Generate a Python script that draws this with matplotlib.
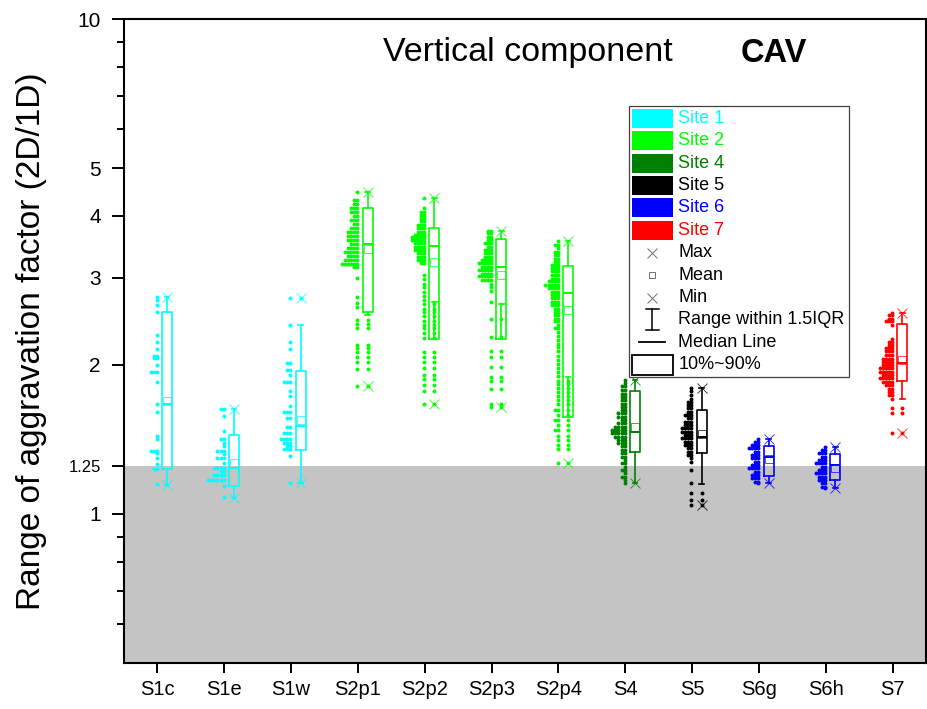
import matplotlib
matplotlib.use('Agg')
import matplotlib.pyplot as plt
from matplotlib.patches import Rectangle
from matplotlib.lines import Line2D
from matplotlib.ticker import FixedLocator, NullFormatter

plt.rcParams['font.family'] = ['Liberation Sans', 'DejaVu Sans']

# ---------------- data ----------------
categories = ['S1c', 'S1e', 'S1w', 'S2p1', 'S2p2', 'S2p3', 'S2p4', 'S4', 'S5', 'S6g', 'S6h', 'S7']
site_colors = ['#00FFFF', '#00FFFF', '#00FFFF', '#00FF00', '#00FF00', '#00FF00', '#00FF00',
               '#008000', '#000000', '#0000FF', '#0000FF', '#FF0000']

p90 = [2.556, 1.446, 1.948, 4.157, 3.79, 3.59, 3.17, 1.776, 1.622, 1.372, 1.322, 2.415]
p10 = [1.233, 1.139, 1.347, 2.556, 2.26, 2.26, 1.567, 1.336, 1.326, 1.193, 1.171, 1.86]
median = [1.667, 1.24, 1.508, 3.512, 3.48, 3.16, 2.79, 1.463, 1.433, 1.305, 1.256, 2.015]
mean = [1.69, 1.265, 1.545, 3.43, 3.23, 3.04, 2.58, 1.498, 1.45, 1.29, 1.24, 2.045]
whislo = [1.144, 1.076, 1.153, 2.524, 2.68, 2.65, 1.894, 1.153, 1.148, 1.153, 1.127, 1.706]
whishi = [2.75, 1.63, 2.41, 4.466, 4.34, 3.73, 3.56, 1.865, 1.794, 1.415, 1.367, 2.544]
vmin = [1.144, 1.076, 1.153, 1.814, 1.67, 1.647, 1.266, 1.153, 1.043, 1.153, 1.127, 1.455]
vmax = [2.75, 1.63, 2.728, 4.466, 4.34, 3.73, 3.56, 1.865, 1.794, 1.415, 1.367, 2.544]

# distribution rows: value levels and number of points at each level
s1c_vals = [2.75, 2.70, 2.64, 2.56, 2.30, 2.23, 2.15, 2.09, 2.07, 2.00, 1.94, 1.85, 1.67, 1.61,
            1.44, 1.42, 1.34, 1.33, 1.30, 1.26, 1.23, 1.15]
s1c_cnts = [1, 1, 1, 1, 1, 1, 1, 2, 2, 1, 3, 1, 1, 1, 1, 1, 3, 1, 1, 1, 2, 1]

s1e_vals = [1.63, 1.58, 1.47, 1.42, 1.39, 1.37, 1.34, 1.32, 1.30, 1.27, 1.24, 1.22, 1.20, 1.17, 1.14, 1.08]
s1e_cnts = [2, 1, 1, 2, 1, 1, 3, 1, 3, 1, 4, 2, 4, 6, 1, 1]

s1w_vals = [2.73, 2.41, 2.23, 2.15, 2.02, 1.95, 1.91, 1.85, 1.77, 1.73, 1.65, 1.61, 1.56, 1.50,
            1.46, 1.42, 1.39, 1.37, 1.35, 1.31, 1.153]
s1w_cnts = [1, 1, 1, 1, 2, 2, 1, 3, 1, 1, 1, 3, 2, 2, 3, 4, 3, 2, 3, 1, 1]

s2p1_vals = [4.466, 4.31, 4.23, 4.15, 4.07, 4.00, 3.93, 3.85, 3.78, 3.71, 3.64, 3.58, 3.51, 3.45,
             3.38, 3.32, 3.26, 3.20, 3.16, 3.00, 2.74, 2.67, 2.62, 2.47, 2.42, 2.37, 2.19, 2.16,
             2.12, 2.08, 2.03, 1.96, 1.814]
s2p1_cnts = [1, 2, 2, 3, 3, 2, 3, 2, 3, 4, 4, 4, 3, 4, 5, 4, 5, 6, 2, 1, 1, 1, 1, 1, 1, 1, 1, 1,
             1, 1, 1, 1, 1]

s2p2_vals = [4.34, 4.15, 4.08, 4.02, 3.96, 3.90, 3.84, 3.78, 3.72, 3.66, 3.62, 3.58, 3.53, 3.47,
             3.41, 3.36, 3.31, 3.26, 3.21, 3.04, 2.98, 2.92, 2.87, 2.81, 2.76, 2.70, 2.65, 2.60,
             2.56, 2.51, 2.45, 2.41, 2.37, 2.32, 2.27, 2.12, 2.08, 2.03, 1.97, 1.91, 1.87, 1.82,
             1.77, 1.67]
s2p2_cnts = [1, 1, 2, 2, 2, 2, 3, 3, 3, 4, 5, 5, 4, 4, 4, 3, 3, 3, 2, 1, 1, 1, 1, 1, 1, 1, 1, 1,
             1, 1, 1, 1, 1, 1, 1, 1, 1, 1, 1, 1, 1, 1, 1, 1]

s2p3_vals = [3.73, 3.69, 3.63, 3.58, 3.53, 3.47, 3.41, 3.36, 3.31, 3.26, 3.21, 3.16, 3.11, 3.06,
             3.02, 2.97, 2.92, 2.88, 2.82, 2.68, 2.48, 2.28, 2.13, 2.08, 1.98, 1.89, 1.86, 1.79,
             1.665, 1.647]
s2p3_cnts = [2, 2, 2, 2, 3, 2, 3, 3, 3, 4, 5, 4, 5, 4, 5, 4, 1, 1, 1, 1, 1, 1, 1, 1, 1, 1, 1, 1, 1, 1]

s2p4_vals = [3.56, 3.49, 3.44, 3.39, 3.34, 3.28, 3.23, 3.18, 3.14, 3.09, 3.04, 2.99, 2.95, 2.90,
             2.86, 2.81, 2.77, 2.73, 2.68, 2.64, 2.60, 2.56, 2.52, 2.48, 2.45, 2.41, 2.37, 2.33,
             2.29, 2.25, 2.21, 2.17, 2.13, 2.09, 2.05, 2.01, 1.97, 1.94, 1.90, 1.86, 1.83, 1.80,
             1.76, 1.73, 1.70, 1.67, 1.62, 1.585, 1.55, 1.51, 1.48, 1.44, 1.41, 1.38, 1.35, 1.266]
s2p4_cnts = [1, 2, 1, 2, 2, 2, 2, 3, 3, 3, 3, 3, 4, 5, 4, 3, 3, 3, 3, 3, 2, 2, 2, 2, 2, 1, 2, 1,
             1, 1, 1, 1, 1, 1, 1, 1, 1, 1, 1, 1, 1, 1, 1, 1, 1, 1, 2, 1, 2, 1, 2, 1, 1, 1, 1, 1]

s4_vals = [1.865, 1.84, 1.81, 1.78, 1.75, 1.725, 1.70, 1.67, 1.647, 1.62, 1.60, 1.57, 1.55, 1.525,
           1.50, 1.48, 1.455, 1.43, 1.41, 1.39, 1.37, 1.347, 1.326, 1.305, 1.286, 1.266, 1.246,
           1.227, 1.208, 1.19, 1.171, 1.153]
s4_cnts = [1, 1, 2, 2, 2, 2, 2, 2, 2, 2, 3, 3, 2, 3, 4, 5, 5, 4, 3, 3, 2, 2, 2, 2, 1, 2, 1, 2, 1,
           2, 1, 1]

s5_vals = [1.794, 1.77, 1.74, 1.71, 1.686, 1.66, 1.635, 1.61, 1.585, 1.56, 1.536, 1.513, 1.49,
           1.466, 1.444, 1.422, 1.40, 1.378, 1.357, 1.336, 1.316, 1.296, 1.276, 1.227, 1.157,
           1.104, 1.067, 1.043]
s5_cnts = [1, 1, 1, 1, 2, 2, 2, 2, 3, 2, 3, 3, 4, 4, 3, 4, 3, 3, 2, 2, 2, 1, 1, 1, 1, 1, 1, 1]

s6g_vals = [1.415, 1.40, 1.378, 1.357, 1.336, 1.316, 1.296, 1.276, 1.256, 1.237, 1.218, 1.199,
            1.18, 1.162, 1.153]
s6g_cnts = [1, 2, 3, 4, 2, 3, 3, 2, 3, 4, 2, 3, 3, 2, 1]

s6h_vals = [1.367, 1.347, 1.326, 1.305, 1.286, 1.266, 1.246, 1.227, 1.208, 1.19, 1.171, 1.153,
            1.136, 1.127]
s6h_cnts = [1, 2, 3, 2, 3, 4, 2, 3, 4, 3, 3, 2, 2, 1]

s7_vals = [2.544, 2.52, 2.48, 2.45, 2.41, 2.26, 2.23, 2.19, 2.16, 2.13, 2.095, 2.06, 2.03, 2.0,
           1.97, 1.94, 1.91, 1.88, 1.85, 1.82, 1.79, 1.766, 1.74, 1.706, 1.635, 1.60, 1.455]
s7_cnts = [1, 2, 2, 3, 1, 1, 2, 2, 3, 3, 3, 4, 4, 4, 5, 5, 4, 5, 4, 3, 2, 2, 2, 1, 1, 1, 1]

dist_vals = [s1c_vals, s1e_vals, s1w_vals, s2p1_vals, s2p2_vals, s2p3_vals, s2p4_vals,
             s4_vals, s5_vals, s6g_vals, s6h_vals, s7_vals]
dist_cnts = [s1c_cnts, s1e_cnts, s1w_cnts, s2p1_cnts, s2p2_cnts, s2p3_cnts, s2p4_cnts,
             s4_cnts, s5_cnts, s6g_cnts, s6h_cnts, s7_cnts]

legend_sites = ['Site 1', 'Site 2', 'Site 4', 'Site 5', 'Site 6', 'Site 7']
legend_site_colors = ['#00FFFF', '#00FF00', '#008000', '#000000', '#0000FF', '#FF0000']
legend_marks = ['Max', 'Mean', 'Min', 'Range within 1.5IQR', 'Median Line', '10%~90%']

y_major = [1, 1.25, 2, 3, 4, 5, 10]
y_major_labels = ['1', '1.25', '2', '3', '4', '5', '10']
y_minor = [0.6, 0.7, 0.8, 0.9, 6, 7, 8, 9]

# ---------------- figure ----------------
W, H = 927, 709
fig = plt.figure(figsize=(W / 100, H / 100), dpi=100)
AX_L, AX_R, AX_T, AX_B = 124, 926, 19, 663
ax = fig.add_axes([AX_L / W, (H - AX_B) / H, (AX_R - AX_L) / W, (AX_B - AX_T) / H])

ax.set_yscale('log')
ax.set_ylim(0.5, 10)
ax.set_xlim(0.5, len(categories) + 0.5)

ax.axhspan(0.5, 1.25, facecolor='#c4c4c4', edgecolor='none', zorder=0)

DX = 0.046
BOX_OFF = 0.145
BOX_W = 0.15
DOT_S = 8

for i, cat in enumerate(categories):
    pos = i + 1
    c = site_colors[i]
    xs, ys = [], []
    for v, n in zip(dist_vals[i], dist_cnts[i]):
        for j in range(n):
            xs.append(pos - 0.01 - j * DX)
            ys.append(v)
    ax.scatter(xs, ys, s=DOT_S, color=c, linewidths=0, zorder=3)

    bx = pos + BOX_OFF
    stats = dict(med=median[i], q1=p10[i], q3=p90[i], whislo=whislo[i], whishi=whishi[i],
                 mean=mean[i], fliers=[])
    ax.bxp([stats], positions=[bx], widths=[BOX_W], showmeans=True, showfliers=False,
           manage_ticks=False, capwidths=[0.07],
           boxprops=dict(color=c, linewidth=1.2),
           whiskerprops=dict(color=c, linewidth=1.2),
           capprops=dict(color=c, linewidth=1.2),
           medianprops=dict(color=c, linewidth=1.4),
           meanprops=dict(marker='s', markersize=5.5, markerfacecolor='none',
                          markeredgecolor=c, markeredgewidth=0.7, alpha=0.7),
           zorder=4)

    out = []
    for v in dist_vals[i]:
        if v < whislo[i] - 1e-9 or v > whishi[i] + 1e-9:
            out.append(v)
    if out:
        ax.scatter([bx] * len(out), out, s=DOT_S, color=c, linewidths=0, zorder=5)
    ax.plot([bx, bx], [vmax[i], vmin[i]], ls='none', marker='x', ms=6.5, mew=0.7,
            color=c, alpha=0.75, zorder=6)

# axes styling
ax.set_xticks(range(1, len(categories) + 1))
ax.set_xticklabels(categories, fontsize=14.5)
ax.yaxis.set_major_locator(FixedLocator(y_major))
ax.yaxis.set_minor_locator(FixedLocator(y_minor))
ax.set_yticklabels(y_major_labels)
ax.yaxis.set_minor_formatter(NullFormatter())
for t, lab in zip(ax.get_yticklabels(), y_major_labels):
    t.set_fontsize(12 if lab == '1.25' else 15)

ax.tick_params(axis='y', which='major', direction='out', length=8.6, width=1.4, pad=8)
ax.tick_params(axis='y', which='minor', direction='out', length=5, width=1.4)
ax.tick_params(axis='x', which='major', direction='out', length=7, width=1.4, pad=5)
ax.tick_params(axis='x', which='minor', bottom=False)
for sp in ax.spines.values():
    sp.set_linewidth(1.5)
    sp.set_color('black')

ax.set_ylabel('Range of aggravation factor (2D/1D)', fontsize=24)
ax.yaxis.set_label_coords((47 - AX_L) / (AX_R - AX_L), 0.5)

def fx(px):
    return (px - AX_L) / (AX_R - AX_L)

def fy(py):
    return (AX_B - py) / (AX_B - AX_T)

ax.text(fx(383), fy(53), 'Vertical component', transform=ax.transAxes, fontsize=24.5,
        ha='left', va='center')
ax.text(fx(741), fy(53), 'CAV', transform=ax.transAxes, fontsize=23.5, fontweight='bold',
        ha='left', va='center')

# ---------------- legend (drawn in axes coordinates) ----------------
T = ax.transAxes
ax.add_patch(Rectangle((fx(629.3), fy(376.7)), fx(848.7) - fx(629.3), fy(105.7) - fy(376.7),
                       transform=T, facecolor='white', edgecolor='#404040', linewidth=0.9,
                       zorder=10))
row0, drow = 118.3, 22.4
for k, (lab, col) in enumerate(zip(legend_sites, legend_site_colors)):
    yc = row0 + drow * k
    ax.add_patch(Rectangle((fx(631.7), fy(yc + 9.5)), fx(672.7) - fx(631.7), fy(yc - 9.5) - fy(yc + 9.5),
                           transform=T, facecolor=col, edgecolor='none', zorder=11))
    ax.text(fx(678.3), fy(yc), lab, color=col, transform=T, fontsize=13, ha='left',
            va='center', zorder=12)
for m, lab in enumerate(legend_marks):
    k = m + len(legend_sites)
    yc = row0 + drow * k
    ax.text(fx(678.3), fy(yc), lab, color='black', transform=T, fontsize=13, ha='left',
            va='center', zorder=12)
    xm = fx(652.3)
    if lab in ('Max', 'Min'):
        ax.add_line(Line2D([xm], [fy(yc)], transform=T, marker='x', ms=7, mew=0.7,
                           color='#707070', zorder=12))
    elif lab == 'Mean':
        ax.add_line(Line2D([xm], [fy(yc)], transform=T, marker='s', ms=5, mew=0.7,
                           markerfacecolor='none', markeredgecolor='#707070', zorder=12))
    elif lab.startswith('Range'):
        ax.add_line(Line2D([xm, xm], [fy(yc - 10.5), fy(yc + 10.5)], transform=T, color='black',
                           lw=1.1, zorder=12))
        for yy in (yc - 10.5, yc + 10.5):
            ax.add_line(Line2D([fx(646), fx(659)], [fy(yy), fy(yy)], transform=T, color='black',
                               lw=1.1, zorder=12))
    elif lab.startswith('Median'):
        ax.add_line(Line2D([fx(639), fx(665)], [fy(yc), fy(yc)], transform=T, color='black',
                           lw=1.3, zorder=12))
    else:
        ax.add_patch(Rectangle((fx(631.7), fy(375.3)), fx(672.7) - fx(631.7), fy(355) - fy(375.3),
                               transform=T, facecolor='white', edgecolor='black', linewidth=1.3,
                               zorder=11))

fig.savefig('out.png', dpi=100)
